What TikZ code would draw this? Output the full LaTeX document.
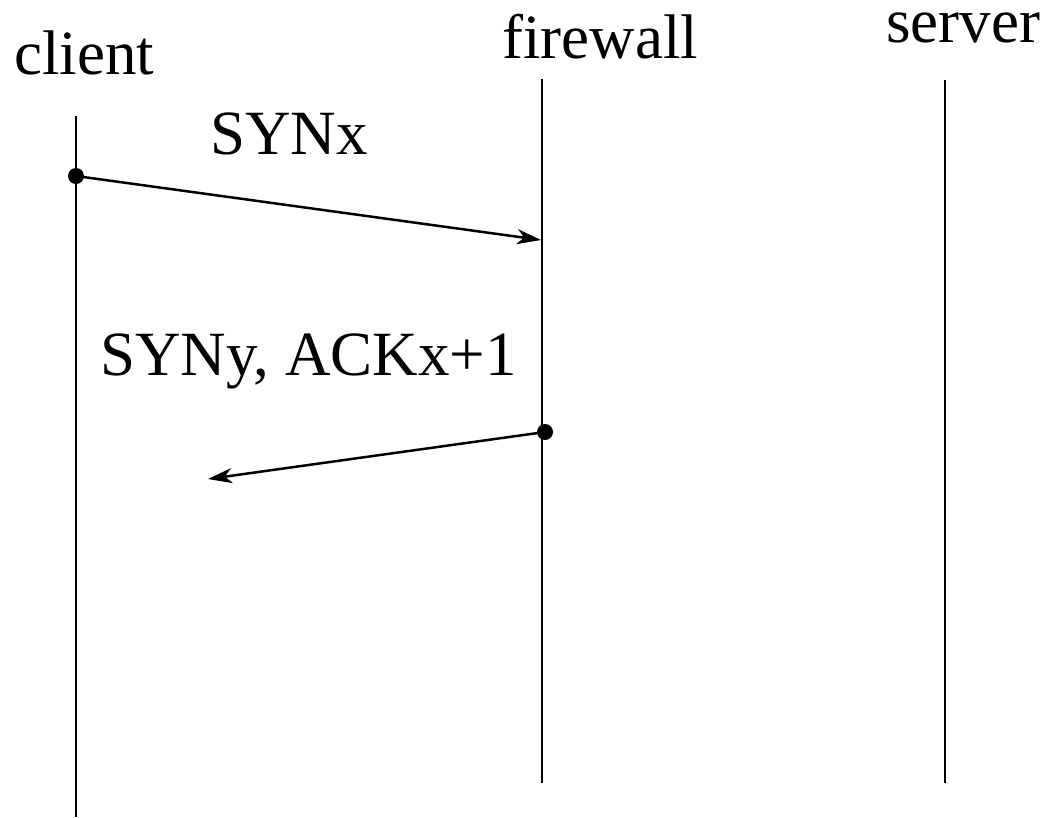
\documentclass[tikz,border=0pt]{standalone}
\usepackage{fontspec}
\setmainfont{Liberation Serif}
\usetikzlibrary{arrows.meta}
\begin{document}
\begin{tikzpicture}[x=1pt,y=-1pt,
  lbl/.style={anchor=base west,inner sep=0pt,font=\fontsize{63}{70}\selectfont},
  life/.style={line width=2.5pt},
  msg/.style={line width=2.5pt,-{Stealth[length=24pt,width=15pt,inset=7pt]}},
  dotpt/.style={circle,fill=black,inner sep=0pt,minimum size=16pt}]
\useasboundingbox (0,0) rectangle (1048,817);
% headers
\node[lbl] (client) at (14,74) {client};
\node[lbl] (firewall) at (502,58) {firewall};
\node[lbl,text height=30pt] (server) at (886,42) {server};
% lifelines
\coordinate (ct) at (76,116); \coordinate (cb) at (76,817);
\coordinate (ft) at (542,79); \coordinate (fb) at (542,783);
\coordinate (st) at (945,80); \coordinate (sb) at (945,783);
\draw[life] (ct) -- (cb);
\draw[life] (ft) -- (fb);
\draw[life] (st) -- (sb);
% messages
\node[dotpt] (d1) at (76,176) {};
\coordinate (e1) at (541,240);
\draw[msg] (d1.center) -- (e1);
\node[lbl] (m1) at (210,154) {SYNx};
\node[dotpt] (d2) at (545,432) {};
\coordinate (e2) at (208,479);
\draw[msg] (d2.center) -- (e2);
\node[lbl] (m2) at (100,375) {SYNy, ACKx+1};
\end{tikzpicture}
\end{document}
